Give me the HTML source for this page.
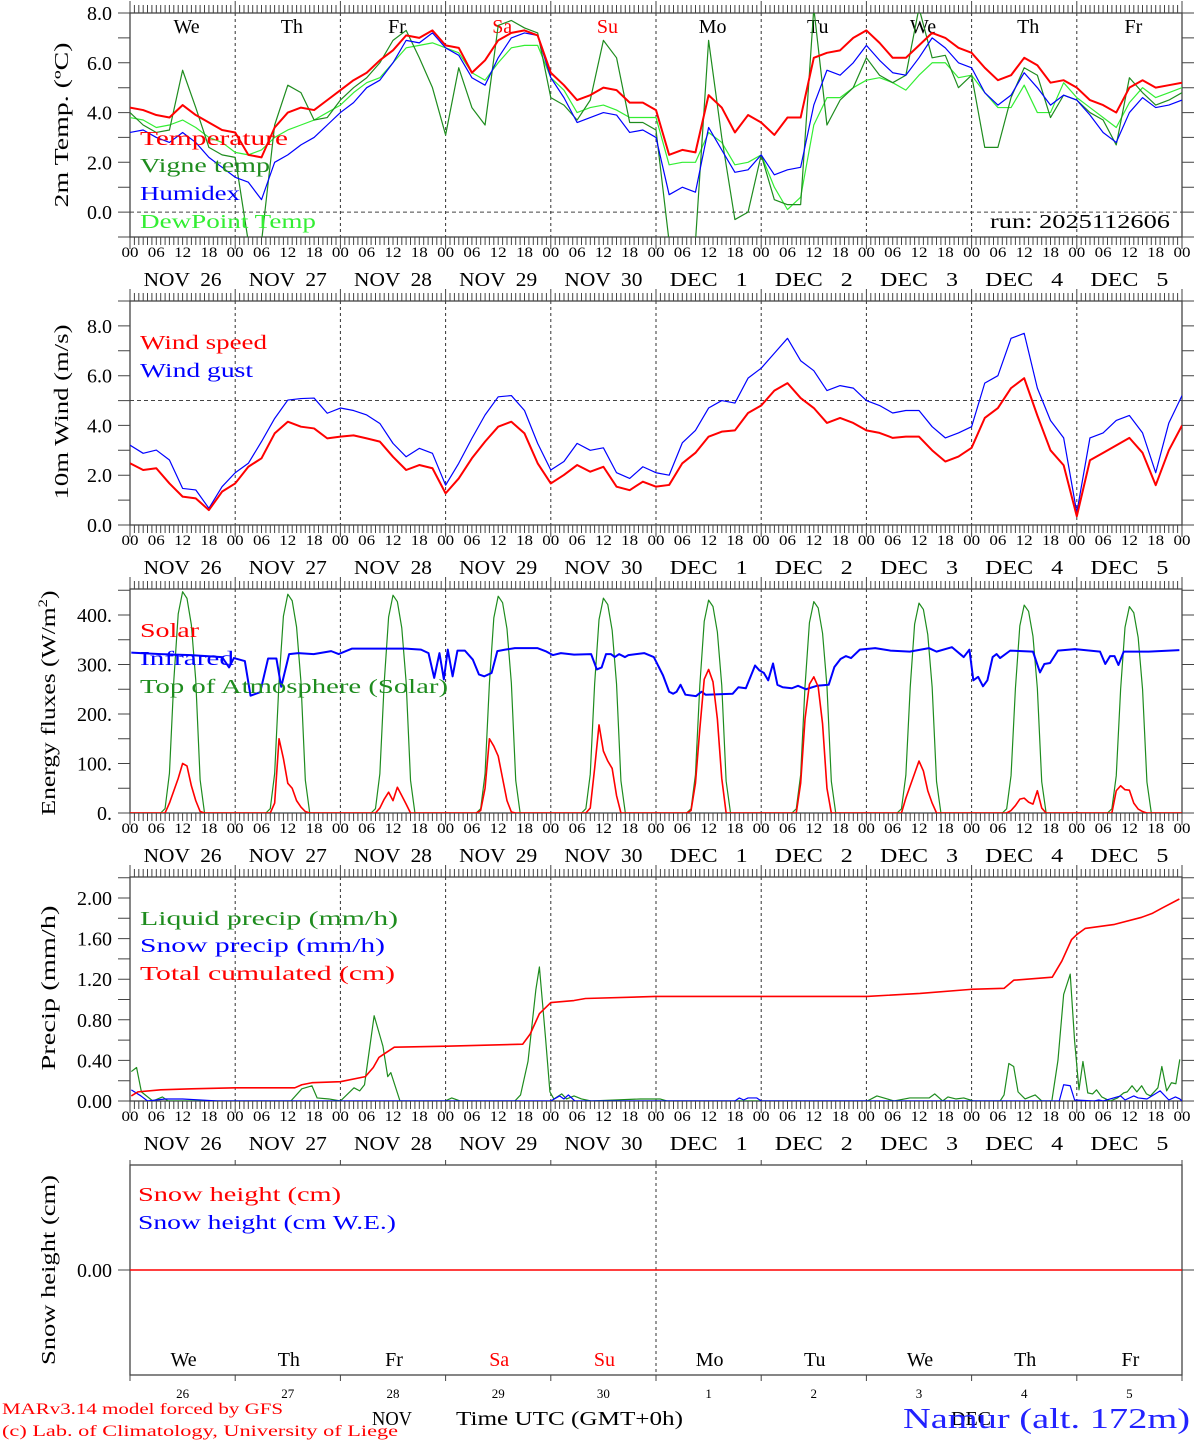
<!DOCTYPE html>
<html><head><meta charset="utf-8">
<style>
html,body{margin:0;padding:0;background:#fff;}
svg{display:block;}
text{font-family:"Liberation Serif",serif;}
</style></head>
<body>
<svg id="chart" width="1194" height="1440" viewBox="0 0 1194 1440" xmlns="http://www.w3.org/2000/svg"></svg>
<script>
// ---------- DATA (3-hourly unless noted) ----------
const dayLabels = ["NOV  26","NOV  27","NOV  28","NOV  29","NOV  30","DEC   1","DEC   2","DEC   3","DEC   4","DEC   5"];
const dayNames = ["We","Th","Fr","Sa","Su","Mo","Tu","We","Th","Fr"];
const dayNums = ["26","27","28","29","30","1","2","3","4","5"];
const hourTicks = ["00","06","12","18"];
const tempTicks = ["0.0","2.0","4.0","6.0","8.0"];
const windTicks = ["0.0","2.0","4.0","6.0","8.0"];
const fluxTicks = ["0.","100.","200.","300.","400."];
const precipTicks = ["0.00","0.40","0.80","1.20","1.60","2.00"];

const temperature = [4.2,4.1,3.9,3.8,4.3,3.9,3.6,3.3, 3.2,2.3,2.2,3.4,4.0,4.2,4.1,4.5, 4.9,5.3,5.6,6.1,6.5,7.1,7.0,7.3, 6.7,6.6,5.6,6.1,6.9,7.2,7.3,7.1, 5.6,5.1,4.5,4.7,5.0,4.9,4.4,4.4, 4.1,2.3,2.5,2.4,4.7,4.2,3.2,3.9, 3.6,3.1,3.8,3.8,6.2,6.4,6.5,7.0, 7.3,6.8,6.2,6.2,6.7,7.2,7.0,6.6, 6.4,5.8,5.3,5.5,6.2,5.9,5.2,5.3, 5.0,4.5,4.3,4.0,5.0,5.3,5.0,5.1,5.2];
const vigneTemp = [4.0,3.5,3.2,3.3,5.7,4.2,2.6,2.3, 2.2,-1.2,-1.2,3.5,5.1,4.8,3.7,3.8, 4.5,5.0,5.4,6.0,6.9,7.3,6.2,5.0, 3.1,5.8,4.2,3.5,7.5,7.7,7.4,7.2, 4.6,4.3,3.7,4.5,6.9,6.2,3.6,3.6, 3.3,-1.2,-1.2,-1.2,6.9,3.0,-0.3,0.0, 2.3,0.5,0.3,0.3,8.2,3.5,4.5,5.0, 6.2,5.5,5.2,5.5,8.2,6.2,6.3,5.0, 5.5,2.6,2.6,4.6,5.8,5.5,3.8,4.7, 4.5,4.0,3.7,2.7,5.4,4.8,4.3,4.5,4.8];
const humidex = [3.2,3.3,3.0,2.8,3.2,2.8,2.2,1.8, 1.4,1.2,0.5,2.0,2.3,2.7,3.0,3.5, 4.0,4.4,5.0,5.3,6.0,6.9,6.8,7.2, 6.6,6.3,5.4,5.1,6.2,7.0,7.2,7.1, 5.4,4.6,3.6,3.8,4.0,3.9,3.2,3.3, 3.0,0.7,1.0,0.8,3.4,2.5,1.6,1.7, 2.3,1.5,1.7,1.8,4.3,5.7,5.5,6.0, 6.7,6.1,5.6,5.5,6.2,7.0,6.6,6.0, 5.8,4.8,4.3,4.7,5.6,5.0,4.3,4.7, 4.5,3.9,3.2,2.8,4.0,4.6,4.2,4.3,4.5];
const dewPoint = [3.8,3.7,3.4,3.5,3.7,3.4,3.0,2.8, 2.4,2.3,2.5,3.0,3.3,3.5,3.7,4.0, 4.3,4.8,5.2,5.4,6.0,6.6,6.7,6.8, 6.6,6.4,5.6,5.3,6.0,6.6,6.7,6.7, 5.4,4.9,4.0,4.2,4.3,4.1,3.8,3.8, 3.8,1.9,2.0,2.0,3.2,2.8,1.9,2.0, 2.3,1.0,0.1,0.6,3.5,4.6,4.6,5.0, 5.3,5.4,5.2,4.9,5.5,6.0,6.0,5.4, 5.5,4.8,4.2,4.2,5.1,4.0,4.0,5.2, 4.6,4.2,3.8,3.4,4.4,5.0,4.6,4.8,5.0];

const windSpeed = [2.48,2.21,2.28,1.67,1.14,1.07,0.6,1.34, 1.67,2.34,2.68,3.68,4.15,3.95,3.88,3.48, 3.55,3.6,3.48,3.35,2.74,2.21,2.41,2.28, 1.27,1.87,2.68,3.35,3.95,4.15,3.68,2.48, 1.67,2.01,2.41,2.14,2.34,1.54,1.4,1.74, 1.54,1.61,2.48,2.9,3.55,3.75,3.8,4.5, 4.8,5.4,5.7,5.1,4.7,4.1,4.3,4.1, 3.8,3.7,3.5,3.55,3.55,3.0,2.55,2.75, 3.1,4.3,4.7,5.5,5.9,4.4,3.0,2.4, 0.35,2.6,2.9,3.2,3.5,2.9,1.6,3.0,4.0];
const windGust = [3.21,2.88,3.01,2.61,1.47,1.41,0.67,1.54, 2.1,2.48,3.35,4.28,5.02,5.08,5.1,4.49, 4.7,4.6,4.42,4.08,3.28,2.74,3.08,2.88, 1.6,2.48,3.48,4.42,5.15,5.2,4.6,3.28, 2.21,2.55,3.28,3.0,3.1,2.1,1.87,2.34, 2.1,2.0,3.3,3.8,4.7,5.0,4.9,5.9, 6.3,6.9,7.5,6.6,6.2,5.4,5.6,5.5, 5.0,4.8,4.5,4.6,4.6,3.95,3.5,3.7, 3.95,5.7,6.0,7.5,7.7,5.5,4.2,3.5, 0.5,3.5,3.7,4.2,4.4,3.7,2.1,4.1,5.2];

// Solar: hourly values from 07h to 17h for each day
const solarHours = [7,8,9,10,11,12,13,14,15,16,17];
const solarByDay = [
 [0,0,20,45,70,100,95,55,25,3,0],
 [0,0,20,150,110,60,50,25,12,3,0],
 [0,0,10,28,42,25,52,35,18,0,0],
 [0,5,50,150,135,115,70,25,2,0,0],
 [0,0,10,90,178,125,105,90,35,0,0],
 [0,5,60,170,270,290,265,190,70,0,0],
 [0,0,60,190,260,275,255,180,50,0,0],
 [0,0,30,55,80,105,85,45,20,0,0],
 [0,0,5,15,28,30,22,18,45,10,0],
 [0,0,45,55,47,46,20,8,3,0,0]
];
const toaPeak = [447,442,440,438,434,430,427,424,420,417];
const toaProfile = [0,0.02,0.18,0.6,0.9,1.0,0.97,0.85,0.6,0.15,0];

const irHours = [0.3,7.0,13.9,21.0,22.6,23.7,26.2,27.5,29.7,31.5,33.4,34.5,36.3,38.4,41.9,45.9,47.6,50.6,57.7,62.9,66.4,68.1,69.4,70.6,71.6,72.5,73.6,74.7,76.4,78.2,79.6,80.8,82.5,83.8,85.6,87.8,93.0,94.8,96.5,98.3,101.3,105.2,106.5,107.6,108.6,109.7,110.6,111.6,112.9,113.7,117.3,119.5,121.6,123.0,123.9,124.7,125.6,126.7,129.1,130.4,131.3,137.5,138.8,140.5,142.6,143.6,144.6,145.6,146.7,147.7,148.9,151.0,152.4,154.2,156.7,159.4,160.7,162.1,163.3,164.5,166.5,170.0,173.5,177.9,182.3,184.0,187.5,190.2,191.5,192.4,193.5,194.6,195.6,196.8,197.7,198.5,200.8,206.0,207.6,208.6,209.9,211.7,215.6,221.3,222.5,223.6,224.6,225.5,226.7,232.4,239.4];
const irValues = [324,321,319,315,294,313,307,237,244,312,312,255,321,323,321,327,321,332,332,332,330,323,273,323,270,330,276,328,328,310,280,276,283,327,330,333,333,327,319,323,320,321,290,294,321,321,315,321,315,319,323,315,278,245,241,245,259,239,236,245,239,241,254,252,298,288,283,268,302,259,254,252,257,250,257,259,295,311,317,313,330,333,328,326,333,326,335,315,330,268,275,256,268,315,321,313,328,326,284,301,303,328,331,326,301,317,317,299,326,326,329];

const liquidHours = [0.3,1.5,2.6,5.2,7.4,8.7,36.7,39.2,41.5,42.7,45.4,48,51.1,52.4,53.5,55.7,57.7,58.8,59.5,61.6,71.9,73.4,75.3,87.8,89.1,90.8,92.6,93.4,94.8,95.8,96.7,98.5,99.6,101.3,103,105.2,116.4,120.9,122.5,168.2,170.4,174.3,177.9,182.3,183.6,185.4,186.6,188.4,190.2,192.4,198.5,199.4,200.5,201.6,202.6,204.2,206.5,208,210.3,211.7,213,214.5,215.5,216.5,217.4,218.5,219.6,220.5,221.7,223.6,225.3,226.7,227.5,228.6,229.7,230.8,231.9,232.8,234.5,235.4,236.5,237.6,238.6,239.5];
const liquidValues = [0.29,0.33,0.09,0,0.04,0,0,0.12,0.15,0.03,0.02,0,0.13,0.10,0.16,0.84,0.54,0.24,0.28,0,0,0.03,0,0,0.06,0.39,1.10,1.32,0.62,0.09,0.02,0.07,0.02,0.05,0.02,0,0.02,0.02,0,0,0.05,0,0.03,0.03,0.07,0,0.04,0.02,0.03,0,0,0.06,0.37,0.34,0.09,0.02,0.06,0,0,0.40,1.05,1.25,0.59,0.11,0.39,0.08,0.07,0.11,0.04,0,0.03,0.08,0.09,0.15,0.09,0.15,0.07,0.05,0.13,0.34,0.10,0.18,0.17,0.41];
const snowHours = [0.3,2.5,4,8,12,20,96,98,99,100,101.5,138,139,140,141,143,144,212,213,214.5,215.5,220,221,222,226,227,229,230,232,235,237,238.5,239.5,240];
const snowValues = [0.11,0.05,0,0.02,0.02,0,0,0.05,0.02,0.06,0,0,0.03,0.01,0.03,0.03,0,0,0.16,0.15,0.01,0,0.01,0,0.05,0.01,0.05,0.03,0.02,0.10,0.01,0.04,0.02,0];
const cumHours = [0.3,1.8,7,14,24,37.6,39.2,41.5,48,53.7,55.5,56.8,60.3,72.2,89.6,91.3,93.4,96,101.3,103.9,119.9,168.1,180.2,191.8,199.4,201.6,210.4,212.6,214.8,216,217.9,224.6,230.8,233.3,235.4,239.4];
const cumValues = [0.05,0.09,0.11,0.12,0.13,0.13,0.16,0.18,0.19,0.24,0.33,0.43,0.53,0.54,0.56,0.66,0.86,0.97,0.99,1.01,1.03,1.03,1.06,1.10,1.11,1.19,1.22,1.38,1.59,1.64,1.70,1.74,1.81,1.85,1.90,1.99];
const snowHeight = [0,0];

// ---------- DRAWING ----------
const svg = document.getElementById('chart');
const NS = 'http://www.w3.org/2000/svg';
const X0 = 130, X1 = 1182, HOURS = 240;
function xh(h){ return X0 + (X1 - X0) * h / HOURS; }
function mk(tag, attrs, name, parent){
  const el = document.createElementNS(NS, tag);
  for (const k in attrs) el.setAttribute(k, attrs[k]);
  
  
  (parent || svg).appendChild(el);
  return el;
}
function txt(x, y, s, opts, name, parent){
  const a = {x:x, y:y, 'font-size':opts.size||18, fill:opts.fill||'#000'};
  if (opts.anchor) a['text-anchor'] = opts.anchor;
  if (opts.len){ a.textLength = opts.len; a.lengthAdjust = 'spacingAndGlyphs'; }
  if (opts.transform) a.transform = opts.transform;
  a['xml:space'] = 'preserve';
  const t = mk('text', a, name, parent);
  t.style.whiteSpace = 'pre';
  t.textContent = s;
  return t;
}
const panels = [
  {top:13, bot:237, min:-1, max:8.0, name:'temperature-panel'},
  {top:301, bot:525, min:0, max:9.0, name:'wind-panel'},
  {top:589, bot:813, min:0, max:452.5, name:'flux-panel'},
  {top:877, bot:1101, min:0, max:2.207, name:'precip-panel'},
  {top:1165, bot:1375, min:-1, max:1, name:'snow-panel'}
];
function yv(p, v){ return p.bot - (v - p.min) / (p.max - p.min) * (p.bot - p.top); }

function frame(p, idx){
  const g = mk('g', {}, p.name);
  // dashed day lines
  for (let d = 1; d < 10; d++){
    if (idx === 4 && d !== 5) continue;
    mk('line', {x1:xh(d*24), x2:xh(d*24), y1:p.top, y2:p.bot, stroke:'#333', 'stroke-width':1, 'stroke-dasharray':'3,3'}, 'day-gridline', g);
  }
  // hourly ticks
  if (idx < 4){
    let dT = '';
    for (let h = 0; h <= 240; h++){
      const x = xh(h).toFixed(1);
      const L = (h % 24 === 0) ? 12 : 8;
      dT += `M${x} ${p.top}V${p.top - L}M${x} ${p.bot}V${p.bot + L}`;
    }
    mk('path', {d:dT, stroke:'#444', 'stroke-width':1, fill:'none'}, 'hour-ticks', g);
  } else {
    let dT = '';
    for (let d = 0; d <= 10; d++){
      const x = xh(d*24).toFixed(1);
      dT += `M${x} ${p.top}V${p.top - 5}M${x} ${p.bot}V${p.bot + 6}`;
    }
    mk('path', {d:dT, stroke:'#444', 'stroke-width':1, fill:'none'}, 'day-ticks', g);
  }
  mk('rect', {x:X0, y:p.top, width:X1 - X0, height:p.bot - p.top, fill:'none', stroke:'#444', 'stroke-width':1.3}, 'plot-frame', g);
  // clip
  const cp = mk('clipPath', {id:'clip' + idx}, 'clip-area', g);
  mk('rect', {x:X0, y:p.top, width:X1 - X0, height:p.bot - p.top}, 'clip-rect', cp);
  return g;
}
function yTicks(p, g, step, labels, labelStep, fmtY){
  let d = '';
  for (let v = p.min < 0 ? Math.ceil(p.min/step)*step : 0; v <= p.max + 1e-9; v += step){
    const y = yv(p, v).toFixed(1);
    d += `M${X0} ${y}H${X0 - 12}M${X1} ${y}H${X1 + 12}`;
  }
  mk('path', {d:d, stroke:'#444', 'stroke-width':1, fill:'none'}, 'y-ticks', g);
  labels.forEach((s, i) => {
    const v = i * labelStep;
    txt(112, yv(p, v) + 7, s, {size:20, anchor:'end'}, 'y-tick-label', g);
  });
}
function xLabels(p, g){
  for (let d = 0; d < 10; d++){
    hourTicks.forEach((s, k) => {
      txt(xh(d*24 + k*6), p.bot + 20, s, {size:15, anchor:'middle', len:17}, 'x-hour-label', g);
    });
    txt(xh(d*24 + 12), p.bot + 49, dayLabels[d], {size:20, anchor:'middle', len:78}, 'x-day-label', g);
  }
  txt(xh(240), p.bot + 20, '00', {size:15, anchor:'middle', len:17}, 'x-hour-label', g);
}
function line(p, idx, hours, vals, color, w, name, g){
  let d = '';
  vals.forEach((v, i) => { d += (i ? 'L' : 'M') + xh(hours[i]).toFixed(2) + ' ' + yv(p, v).toFixed(2); });
  mk('path', {d:d, stroke:color, 'stroke-width':w, fill:'none', 'clip-path':`url(#clip${idx})`, 'stroke-linejoin':'round'}, name, g);
}
const h3 = temperature.map((_, i) => i * 3);
const RED = '#ff0000', GRN = '#1e8c1e', LIME = '#33ee33', BLUE = '#0000ff';

// Panel 1
{
  const p = panels[0], g = frame(p, 0);
  mk('line', {x1:X0, x2:X1, y1:yv(p,0), y2:yv(p,0), stroke:'#444', 'stroke-dasharray':'4,3'}, 'zero-line', g);
  yTicks(p, g, 1, tempTicks, 2);
  xLabels(p, g);
  dayNames.forEach((s, d) => txt(xh(d*24 + 12) + 4, 33, s, {size:20, anchor:'middle', fill:(d === 3 || d === 4) ? RED : '#000'}, 'weekday-label', g));
  line(p, 0, h3, dewPoint, LIME, 1.2, 'dewpoint-line', g);
  line(p, 0, h3, vigneTemp, GRN, 1.2, 'vigne-temp-line', g);
  line(p, 0, h3, humidex, BLUE, 1.2, 'humidex-line', g);
  line(p, 0, h3, temperature, RED, 2, 'temperature-line', g);
  txt(140, 145, 'Temperature', {size:20, fill:RED, len:148}, 'legend-temperature', g);
  txt(140, 172, 'Vigne temp', {size:20, fill:GRN, len:130}, 'legend-vigne-temp', g);
  txt(140, 200, 'Humidex', {size:20, fill:BLUE, len:100}, 'legend-humidex', g);
  txt(140, 228, 'DewPoint Temp', {size:20, fill:LIME, len:176}, 'legend-dewpoint', g);
  txt(990, 228, 'run: 2025112606', {size:20, len:180}, 'run-label', g);
  txt(68, 125, '2m Temp. (ºC)', {size:20, anchor:'middle', len:165, transform:'rotate(-90 68 125)'}, 'y-axis-title', g);
}
// Panel 2
{
  const p = panels[1], g = frame(p, 1);
  mk('line', {x1:X0, x2:X1, y1:yv(p,5), y2:yv(p,5), stroke:'#444', 'stroke-dasharray':'4,3'}, 'threshold-line', g);
  yTicks(p, g, 1, windTicks, 2);
  xLabels(p, g);
  line(p, 1, h3, windGust, BLUE, 1.2, 'wind-gust-line', g);
  line(p, 1, h3, windSpeed, RED, 2, 'wind-speed-line', g);
  txt(140, 349, 'Wind speed', {size:20, fill:RED, len:127}, 'legend-wind-speed', g);
  txt(140, 377, 'Wind gust', {size:20, fill:BLUE, len:113}, 'legend-wind-gust', g);
  txt(68, 412, '10m Wind (m/s)', {size:20, anchor:'middle', len:175, transform:'rotate(-90 68 412)'}, 'y-axis-title', g);
}
// Panel 3
{
  const p = panels[2], g = frame(p, 2);
  yTicks(p, g, 50, fluxTicks, 100);
  xLabels(p, g);
  const sh = [], sv = [], th = [], tv = [];
  sh.push(0); sv.push(0); th.push(0); tv.push(0);
  solarByDay.forEach((arr, d) => {
    arr.forEach((v, k) => { sh.push(d*24 + solarHours[k]); sv.push(v); });
    toaProfile.forEach((f, k) => { th.push(d*24 + solarHours[k]); tv.push(f * toaPeak[d]); });
  });
  sh.push(240); sv.push(0); th.push(240); tv.push(0);
  line(p, 2, th, tv, GRN, 1.2, 'toa-solar-line', g);
  line(p, 2, irHours, irValues, BLUE, 2, 'infrared-line', g);
  line(p, 2, sh, sv, RED, 1.6, 'solar-line', g);
  txt(140, 637, 'Solar', {size:20, fill:RED, len:59}, 'legend-solar', g);
  txt(140, 665, 'Infrared', {size:20, fill:BLUE, len:94}, 'legend-infrared', g);
  txt(140, 693, 'Top of Atmosphere (Solar)', {size:20, fill:GRN, len:308}, 'legend-toa', g);
  const tt = mk('text', {x:55, y:703, 'font-size':20, 'text-anchor':'middle', transform:'rotate(-90 55 703)', textLength:225, lengthAdjust:'spacingAndGlyphs'}, 'y-axis-title', g);
  tt.innerHTML = 'Energy fluxes (W/m<tspan dy="-8" font-size="13">2</tspan><tspan dy="8">)</tspan>';
}
// Panel 4
{
  const p = panels[3], g = frame(p, 3);
  yTicks(p, g, 0.2, precipTicks, 0.4);
  xLabels(p, g);
  line(p, 3, liquidHours, liquidValues, GRN, 1.2, 'liquid-precip-line', g);
  line(p, 3, snowHours, snowValues, BLUE, 1.2, 'snow-precip-line', g);
  line(p, 3, cumHours, cumValues, RED, 1.6, 'cumulated-precip-line', g);
  txt(140, 925, 'Liquid precip (mm/h)', {size:20, fill:GRN, len:258}, 'legend-liquid', g);
  txt(140, 952, 'Snow precip (mm/h)', {size:20, fill:BLUE, len:245}, 'legend-snow-precip', g);
  txt(140, 980, 'Total cumulated (cm)', {size:20, fill:RED, len:255}, 'legend-cumulated', g);
  txt(55, 988, 'Precip (mm/h)', {size:20, anchor:'middle', len:165, transform:'rotate(-90 55 988)'}, 'y-axis-title', g);
}
// Panel 5
{
  const p = panels[4], g = frame(p, 4);
  mk('path', {d:`M${X0} ${yv(p,0)}H${X0-12}M${X1} ${yv(p,0)}H${X1+12}`, stroke:'#444', fill:'none'}, 'y-ticks', g);
  txt(112, yv(p,0) + 7, '0.00', {size:20, anchor:'end'}, 'y-tick-label', g);
  line(p, 4, [0, 240], snowHeight, RED, 1.6, 'snow-height-line', g);
  txt(138, 1201, 'Snow height (cm)', {size:20, fill:RED, len:203}, 'legend-snow-height', g);
  txt(138, 1229, 'Snow height (cm W.E.)', {size:20, fill:BLUE, len:258}, 'legend-snow-we', g);
  txt(55, 1270, 'Snow height (cm)', {size:20, anchor:'middle', len:190, transform:'rotate(-90 55 1270)'}, 'y-axis-title', g);
  dayNames.forEach((s, d) => txt(xh(d*24 + 12) + 1, 1366, s, {size:20, anchor:'middle', fill:(d === 3 || d === 4) ? RED : '#000'}, 'weekday-label', g));
  dayNums.forEach((s, d) => txt(xh(d*24 + 12), 1398, s, {size:13, anchor:'middle'}, 'day-number-label', g));
  txt(392, 1425, 'NOV', {size:20, anchor:'middle', len:40}, 'month-label-nov', g);
  txt(456, 1425, 'Time UTC (GMT+0h)', {size:20, len:227}, 'x-axis-title', g);
  txt(971, 1425, 'DEC', {size:20, anchor:'middle', len:40}, 'month-label-dec', g);
  txt(903, 1428, 'Namur (alt. 172m)', {size:28, fill:'#2222ff', len:287}, 'station-title', g);
  txt(2, 1414, 'MARv3.14 model forced by GFS', {size:16, fill:RED, len:281}, 'credit-model', g);
  txt(2, 1436, '(c) Lab. of Climatology, University of Liege', {size:16, fill:RED, len:396}, 'credit-lab', g);
}
</script>
</body></html>
